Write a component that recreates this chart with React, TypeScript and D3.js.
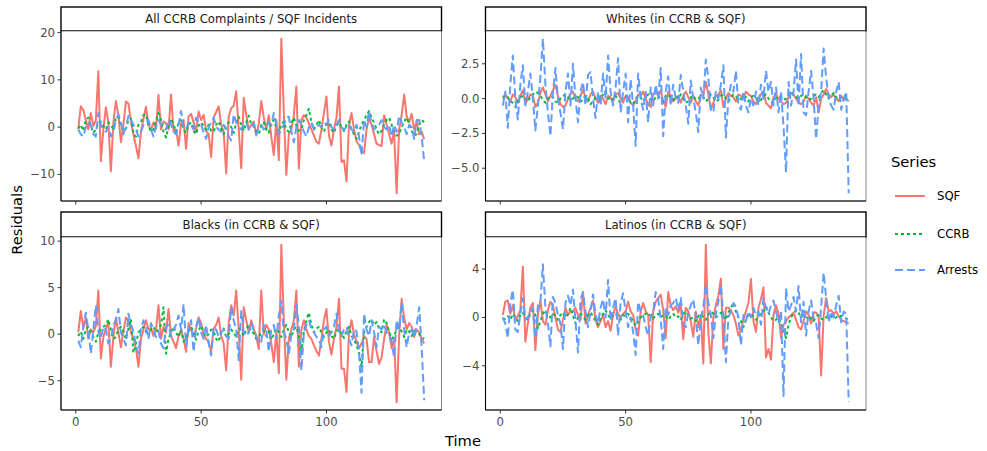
import React from "react";
import * as d3 from "d3";

// time index (months)
const time = d3.range(1, 140);

// All CCRB complaints / SQF incidents
const allSQF = [
  -0.4, 4.4, 3.6, 1.5, -0.5, 3.0, 0.2, 1.5, 11.8, -7.2,
  -0.5, 4.2, 1.0, -9.4, 1.0, 5.5, 2.6, -3.2, 0.5, 5.4,
  5.0, 1.2, -1.5, -4.0, -6.6, -1.0, 1.8, 4.3, 0.5, -0.5,
  1.0, -0.3, 6.8, -0.5, 1.2, 0.8, -0.5, 6.9, -0.8, -0.5,
  -3.9, 0.8, 1.5, -4.6, 2.2, 2.8, 1.0, -1.0, 3.3, 1.5,
  2.6, -0.8, -1.5, -6.3, 2.0, 3.2, 4.4, 0.5, -1.0, -9.8,
  2.2, 4.0, 4.5, 7.6, -0.5, -8.7, 6.2, 2.6, -0.5, 0.5,
  1.2, -1.8, 0.8, 5.5, 2.0, -0.5, 2.5, -2.0, -5.9, 1.5,
  -7.0, 18.7, 3.0, -10.1, -1.5, -0.5, 2.6, 8.6, -8.8, 1.5,
  2.5, 2.0, 0.8, -0.5, -1.8, -3.1, -3.5, -0.5, 3.0, 6.5,
  -1.8, -3.9, -0.5, 2.0, 8.6, -7.4, -7.0, -11.5, 0.5, 3.0,
  -0.5, -3.0, -3.8, -5.0, -5.5, -0.5, 2.0, 0.5, -1.5, -3.5,
  -3.8, -4.0, 2.5, 0.5, -1.5, -3.5, -0.8, -14.0, -0.5, 2.5,
  6.9, 2.3, 1.0, 2.8, -0.5, 1.2, -1.5, -1.0, -2.6,
];
const allCCRB = [
  -0.3, 0.5, -0.8, 1.5, 2.0, 0.2, -1.2, -0.5, 1.0, 1.2,
  0.3, -0.5, 1.0, 0.5, -0.5, 2.0, 2.2, 0.5, -0.8, -0.3,
  1.5, 1.8, -1.5, -2.0, 0.5, 1.0, 2.5, 2.7, 0.3, -1.0,
  -0.5, 1.2, 3.0, 1.5, -1.0, -2.2, 0.0, 1.8, 0.5, -1.0,
  0.8, 1.5, -0.5, -1.2, 0.5, 1.0, -0.8, -1.5, 0.3, 1.0,
  0.2, -0.6, 0.5, -0.8, -1.0, 0.5, 1.2, -0.3, -1.5, 0.5,
  1.0, 0.0, -1.2, 0.8, 2.2, 0.5, -0.8, 1.0, 2.4, 0.5,
  0.2, -1.0, -1.5, 0.5, 1.0, -0.5, -1.2, 0.8, 1.5, 0.0,
  -1.0, 0.5, 1.2, -0.5, -1.0, 0.8, 2.0, 0.3, -0.8, -0.5,
  1.5, 2.5, 3.9, 1.0, -0.5, 0.5, 1.5, 0.0, -1.0, 0.5,
  1.0, -0.5, -1.2, 0.3, 1.0, 0.0, -0.8, 0.5, 1.2, -0.5,
  -1.5, -2.5, -1.0, 0.5, 1.5, 2.5, 3.4, 2.0, 1.0, -0.5,
  -1.5, -0.8, 0.5, 1.5, 2.0, 0.5, -1.0, -1.8, -1.5, 0.0,
  1.2, 2.0, 0.5, -0.8, -1.8, -1.5, 0.5, 1.5, 1.0,
];
const allArrests = [
  -0.5, -1.5, -2.0, 0.0, 1.0, 0.5, -1.5, -2.0, 3.0, 0.5,
  -0.5, -1.0, 0.0, -2.0, -1.0, 1.5, 2.7, 1.0, -1.5, 0.0,
  2.4, 1.5, 0.5, -0.5, -2.0, -1.0, 0.5, 1.0, 1.5, -0.5,
  -2.0, 0.0, 1.5, 0.5, 0.0, -0.5, 1.5, 0.5, -1.0, -1.5,
  0.5, 3.4, 0.0, -0.5, 1.0, 0.5, -0.5, 2.0, 1.0, 0.5,
  -1.0, -2.5, 0.0, 1.0, 2.0, 0.0, -0.5, -1.0, 0.5, -0.5,
  -2.0, -2.8, 2.7, 1.0, 0.0, -0.5, 0.5, 1.0, -0.5, 0.0,
  0.8, -1.5, 0.0, 0.5, -0.5, 0.0, 1.0, 0.5, 3.0, 0.5,
  -1.5, -0.5, 0.5, 2.0, 2.2, -1.0, -3.2, 0.0, 1.5, 0.5,
  -1.0, -2.0, 0.0, 1.0, -0.5, 0.0, 0.5, 0.0, 1.0, 0.5,
  1.5, 0.0, -0.5, 0.5, 1.5, 0.0, -0.5, 0.0, 0.5, -0.5,
  -1.0, 0.5, -2.0, -6.0, 1.5, 0.0, 3.4, 1.0, -0.5, 0.0,
  0.5, 1.5, 0.0, -0.5, 0.5, -2.0, 0.5, -1.0, 2.4, 1.0,
  0.0, -1.5, 0.5, 0.0, -2.5, 1.5, 1.5, -2.0, -7.4,
];

// Whites
const whiteSQF = [
  0.1, 0.3, 0.0, -0.2, 0.3, 0.1, -0.3, 0.2, 0.6, -0.4,
  0.0, 0.3, 0.2, -0.6, -0.3, 0.4, 0.8, 0.3, -0.2, 0.2,
  0.6, 1.0, 0.2, -0.4, -0.6, -0.5, 0.0, 0.3, 0.5, 0.0,
  -0.2, 0.2, 0.6, 0.1, -0.2, 0.3, 0.5, 0.0, -0.3, 0.2,
  0.0, -0.4, 0.2, 0.1, -0.2, 0.3, 0.4, 0.0, -0.3, 0.2,
  0.1, -0.3, -0.5, -0.2, 0.3, 0.2, 0.5, 0.0, -0.4, -0.6,
  0.3, 0.5, 0.2, 0.6, -0.2, -0.6, 0.5, 0.2, -0.2, 0.0,
  0.2, -0.3, 0.2, 0.5, 0.1, -0.3, 0.2, -0.2, -0.5, 0.2,
  0.3, 1.2, 0.3, -0.8, -0.3, 0.2, 0.3, 0.6, -0.6, 0.0,
  0.4, 0.2, 0.1, -0.2, 0.3, 0.2, 0.0, 0.5, 0.3, 0.2,
  -0.2, -0.4, 0.0, 0.3, 0.5, -0.3, -0.5, -0.7, 0.1, 0.3,
  0.0, -0.2, -0.4, -0.3, 0.1, 0.4, 0.3, 0.0, -0.3, -0.4,
  -0.2, 0.2, 0.0, -0.3, -0.5, 0.1, -1.0, 0.0, 0.3, 0.7,
  0.3, 0.1, 0.3, 0.0, -0.2, 0.2, -0.1, 0.0, -0.2,
];
const whiteCCRB = [
  0.0, 0.2, 0.1, -0.2, -0.3, -0.6, -0.2, 0.1, 0.2, 0.0,
  -0.2, 0.1, 0.3, 0.5, 0.4, 0.2, -0.1, -0.3, 0.0, 0.2,
  0.1, -0.2, -0.3, 0.0, 0.2, 0.3, 0.1, -0.1, 0.0, 0.2,
  0.1, -0.2, -0.1, 0.2, 0.0, -0.4, -0.2, 0.1, 0.2, 0.0,
  0.3, 0.5, 0.1, -0.2, 0.0, 0.2, -0.1, -0.3, 0.1, 0.2,
  0.0, -0.3, -0.4, 0.0, 0.2, 0.1, -0.2, 0.1, 0.3, 0.0,
  -0.2, 0.1, 0.2, -0.1, -0.2, 0.2, 0.3, 0.0, -0.1, 0.2,
  0.0, 0.3, 0.0, -0.3, -0.2, 0.1, 0.2, -0.1, 0.0, 0.2,
  0.1, -0.2, 0.0, 0.3, 0.1, -0.2, -0.1, 0.2, 0.3, 0.0,
  -0.2, 0.1, 0.3, 0.2, -0.1, 0.0, 0.2, 0.1, -0.2, 0.1,
  0.2, 0.0, -0.2, -0.1, 0.2, 0.3, 0.0, -0.2, -0.3, 0.0,
  0.2, 0.1, -0.1, 0.0, 0.3, 0.5, 0.3, 0.1, 0.0, 0.2,
  0.3, 0.1, -0.1, 0.0, 0.2, 0.3, 0.1, 0.4, 0.6, 0.3,
  0.0, 0.2, 0.4, 0.1, -0.1, 0.1, 0.0, 0.1, 0.1,
];
const whiteArrests = [
  -0.5, 0.5, -2.1, 1.0, 3.1, 0.0, -1.5, 1.0, 2.4, -0.5,
  0.5, 1.8, 0.0, -2.3, -0.5, 1.5, 4.3, 1.0, -1.0, -2.7,
  0.5, 2.2, 0.0, -1.0, -2.2, 0.5, 1.8, -0.5, 2.5, 0.0,
  -1.7, 0.5, 1.2, -0.5, 1.7, 1.9, 0.0, -1.4, 0.5, -0.5,
  1.8, 0.0, 3.1, 0.5, -0.5, 0.8, 2.9, -1.0, 0.5, 1.8,
  -1.7, 1.4, -0.5, -3.4, 1.8, 0.0, -0.8, 0.5, -1.7, 0.8,
  -0.5, 1.0, 0.0, 2.2, -2.7, 0.5, 1.6, -0.5, 1.0, 0.0,
  -0.3, 1.7, 0.5, -0.5, -1.8, 1.3, 0.0, -1.0, -2.4, 0.8,
  0.0, 2.8, 1.5, -0.8, -1.0, 0.5, 0.0, 1.0, 2.4, -2.8,
  0.0, 1.0, 0.5, 2.0, -0.5, -0.8, 0.5, -0.5, -1.0, 0.0,
  -0.5, 0.5, -0.5, 1.0, 0.0, 2.0, 0.5, 1.2, -0.5, 0.8,
  -1.0, 0.5, -2.0, -5.3, 1.2, -0.5, 0.5, 2.8, -0.5, 3.2,
  -1.0, -1.2, 0.5, 2.0, 0.0, -2.9, -0.5, 0.5, 3.6, 1.5,
  0.0, -0.5, -0.8, 0.5, 1.2, -0.8, 0.0, 0.5, -6.8,
];

// Blacks
const blackSQF = [
  0.2, 2.5, 0.7, 1.8, -0.5, 0.5, 0.2, 0.9, 4.7, -2.6,
  -0.3, 0.6, 1.3, -3.5, -0.3, 1.8, 0.2, -1.4, 0.3, 1.8,
  1.5, 0.2, -0.5, -1.5, -3.5, -0.5, 0.5, 1.5, 0.5, 0.7,
  -0.2, 0.5, 3.1, -0.5, 0.8, 0.2, 2.7, -0.2, -0.8, -1.5,
  -0.2, 0.5, -0.5, -1.9, 1.2, 0.5, -0.2, 0.6, 1.8, 1.2,
  0.0, -0.5, -0.8, -1.9, 0.6, 1.0, 1.8, -0.2, -1.0, -3.9,
  1.2, 3.1, 2.0, 4.7, 0.5, -4.9, 2.9, 1.5, 0.2, 1.5,
  0.6, -0.2, -1.6, 4.7, 0.0, 1.0, 0.5, -1.0, -3.0, 0.2,
  -4.2, 9.6, 1.5, -4.9, -0.5, 0.5, 1.5, 4.7, -3.5, 0.5,
  1.5, 0.5, -0.2, -0.5, -1.2, -1.8, -2.3, -0.5, 1.5, 2.7,
  -0.8, -2.2, -0.5, 0.8, 3.8, -3.7, -3.7, -6.2, 0.2, 1.5,
  0.0, -0.8, -1.5, -1.0, -0.2, -0.5, -3.0, -3.0, -0.3, -1.8,
  -3.2, -2.5, -0.5, 1.0, 0.2, -1.5, -0.4, -7.3, -0.2, 3.8,
  1.8, 0.5, 1.2, 0.8, -0.3, 0.5, 0.2, -0.5, -1.0,
];
const blackCCRB = [
  -0.2, 0.3, -0.5, 0.5, 0.8, 0.3, -0.3, -0.8, 0.2, 0.5,
  0.8, 1.0, 1.6, 0.5, -0.5, -0.3, 0.5, 0.8, 0.3, -0.5,
  0.6, 1.6, -2.0, -1.0, 0.2, 0.5, 0.8, 0.3, -0.2, 0.5,
  0.8, 0.2, 0.5, 1.0, 2.9, -2.1, -0.5, 0.2, 0.8, 0.2,
  -0.3, 0.5, -0.8, -0.5, 0.3, 0.8, 0.2, -0.6, 0.4, 0.9,
  0.2, -0.3, 0.0, 0.5, 0.3, -0.5, -0.8, 0.2, 0.6, -0.3,
  0.0, 0.5, 0.2, -0.3, 0.6, 0.4, -0.2, 0.5, 1.0, 0.3,
  0.1, -0.5, -0.3, 0.2, 0.4, -0.2, 0.3, -0.6, 0.0, 0.6,
  0.2, -0.3, 0.5, 1.0, 0.2, -0.3, 0.5, 0.8, -0.2, -2.0,
  0.3, 1.5, 2.3, 1.0, 0.2, 0.6, 0.8, 0.2, -0.3, 0.2,
  0.5, -0.2, -0.5, 0.3, 0.6, 0.0, -0.4, 0.4, 0.8, -0.2,
  -0.5, -1.2, -2.0, -3.5, 0.2, 0.8, 1.3, 1.6, 1.0, 1.3,
  0.6, 0.2, 1.6, 1.2, 0.3, -0.5, -0.2, 0.5, 0.8, 0.3,
  -0.3, 0.5, 0.3, -0.2, 0.4, 0.2, 0.0, -0.3, -0.5,
];
const blackArrests = [
  -0.7, -1.4, 0.8, 2.3, 0.5, -2.1, 0.5, 3.1, 0.3, -0.5,
  0.8, 0.5, -1.0, -0.5, 1.0, 1.5, 2.7, 0.2, -0.5, -1.2,
  2.2, 1.0, 0.3, -1.2, -2.1, 0.5, 1.5, 0.8, -0.5, 1.2,
  0.5, -0.3, 0.3, -1.0, -1.5, 0.8, 1.0, -0.2, 0.5, 1.0,
  2.0, 0.5, 3.2, -1.2, 0.5, 1.5, -1.9, 0.8, 1.8, 0.2,
  -0.5, 1.0, -1.0, -2.3, 0.8, 0.5, -0.3, 0.2, 0.5, -0.2,
  -0.5, 2.9, 1.5, 0.5, -2.8, 2.5, 0.2, -0.2, 0.2, 1.2,
  0.4, -0.2, -1.0, -0.8, 1.0, 0.5, -1.9, 0.5, 1.0, -0.5,
  2.0, 3.6, 0.2, -0.5, -2.1, 0.0, 0.5, 3.2, 0.8, -3.9,
  0.2, 1.0, 1.5, 0.5, 0.2, -0.3, -0.5, -1.4, 0.5, 0.8,
  -0.2, 0.2, 0.8, 2.2, 0.3, -0.2, 0.5, 0.8, -0.5, -1.2,
  0.5, 0.3, -2.0, -6.3, 2.2, 0.5, -0.2, 1.5, 0.2, -1.4,
  0.8, 0.5, 1.0, 0.2, -0.2, -0.8, -2.5, 1.5, 0.5, 3.4,
  0.5, -1.4, 0.2, 0.5, -0.3, 1.0, 2.9, -1.5, -7.1,
];

// Latinos
const latinoSQF = [
  0.2, 1.3, 1.4, 0.3, 1.0, -0.2, 0.1, 0.6, 4.2, -2.0,
  -0.5, 0.8, 1.2, -2.7, 0.2, 1.4, -0.3, -0.6, 0.6, 1.3,
  1.0, 0.0, -1.0, -1.2, -0.2, 0.8, 0.2, 0.5, 0.5, 0.8,
  0.2, -0.2, 2.1, -0.5, 0.2, 0.8, 1.4, -0.2, -0.8, -0.3,
  0.2, -0.8, -0.3, -1.1, 0.2, 0.9, 0.3, 0.0, 0.3, 0.5,
  1.3, 0.5, 0.2, -1.0, -1.5, 0.5, 1.2, 0.5, 0.2, -3.7,
  0.5, 1.3, 1.6, 1.9, 0.6, -1.7, 2.1, 1.0, 0.6, 0.9,
  0.4, 1.0, -1.8, 0.8, 0.5, -0.3, -1.6, 0.5, -0.8, 0.2,
  -3.8, 6.0, -1.2, -3.8, 0.0, 1.0, 1.8, 3.2, -2.6, 0.8,
  0.8, 0.6, 0.2, -0.5, -1.5, -1.0, -0.2, 0.5, 1.2, 3.2,
  -0.3, -1.2, 0.8, 1.5, 2.5, -3.3, -2.6, -3.5, 0.2, 1.0,
  0.3, -1.7, -0.6, -0.3, 0.0, 0.2, 0.4, -0.2, -0.8, -1.0,
  -0.3, 0.5, 0.2, -0.5, 0.4, 0.4, 0.1, -4.8, 0.2, 1.6,
  0.5, 0.6, 0.3, 0.5, 0.1, -0.2, -0.3, -0.4, -0.5,
];
const latinoCCRB = [
  -0.2, -0.1, 0.1, -0.2, 0.3, 0.0, -0.3, 0.2, 0.4, 0.0,
  -0.2, 0.3, 0.6, 0.2, -0.9, -0.3, 0.3, 0.6, 0.2, 0.0,
  0.3, 0.1, -0.2, 0.2, 0.4, 0.0, 0.3, 0.8, 0.2, -0.5,
  0.0, 0.3, 0.1, -0.2, 0.2, 0.4, 0.1, -0.3, -0.6, 0.0,
  0.3, 0.6, 0.2, -0.1, 0.2, 0.3, 0.0, -0.2, 0.2, 0.1,
  0.3, 0.0, -0.3, -0.7, -0.4, 0.0, 0.2, 0.3, 0.4, 0.1,
  -0.1, 0.2, 0.3, 0.0, 0.2, 0.1, -0.2, 0.1, 0.3, 0.0,
  0.1, -0.2, 0.3, 0.5, 0.2, -0.1, 0.0, -0.3, 0.1, 0.3,
  0.0, -0.2, 0.2, 0.5, 0.3, 0.0, 0.2, 0.4, 0.1, -0.2,
  0.4, 0.8, 1.2, 0.5, 0.0, -0.3, -0.8, -0.2, 0.2, 0.3,
  0.0, -0.2, 0.1, 0.3, 0.5, 0.9, 0.4, 0.0, -0.3, -0.2,
  0.0, -0.5, -1.0, -1.7, -0.6, 0.0, 0.3, 0.6, 0.4, 0.0,
  0.2, 0.1, -0.2, 0.0, -0.3, 0.1, 0.2, -0.1, -0.2, 0.0,
  0.2, 0.1, -0.1, 0.0, 0.2, 0.1, 0.0, -0.1, -0.2,
];
const latinoArrests = [
  0.0, -0.5, -1.7, 1.2, 2.3, -1.0, -1.2, 0.3, 1.6, -0.2,
  0.0, 0.5, 0.8, -1.7, 1.0, 1.2, 4.4, 0.8, -0.5, -2.4,
  1.7, 1.2, 0.2, -0.5, -2.6, 1.2, 1.8, 1.0, 2.3, -0.3,
  -2.9, 1.5, 2.1, 0.5, -0.8, 0.5, 1.9, 0.2, -0.5, 0.8,
  1.5, 0.0, 3.1, -0.3, 0.8, 1.6, -1.5, 1.2, 2.0, 0.5,
  -0.8, 0.0, -1.2, -3.1, 1.3, 0.5, 0.2, -0.8, -1.5, 0.0,
  0.5, 2.1, 1.5, -0.2, -2.6, 0.8, 0.2, 1.0, 1.2, 1.6,
  0.6, 1.6, -0.5, -0.8, 0.4, 1.0, 1.5, 0.0, -2.3, 0.0,
  0.8, 2.7, 1.2, 0.2, -1.7, 0.3, 1.3, 2.7, 0.0, -3.7,
  0.0, 0.5, 1.2, 0.9, 0.0, -2.3, 0.2, -0.3, 0.5, 0.0,
  0.8, 0.2, 0.5, -0.6, 1.6, 0.8, 0.3, 1.0, 1.4, 0.5,
  -0.4, 0.5, -6.5, 2.4, 0.5, 1.0, 1.7, 0.5, 2.6, -0.4,
  1.3, -1.5, 0.5, 1.4, 0.0, -0.5, -1.7, 0.8, 3.7, 1.6,
  -0.4, 0.5, 0.0, 1.0, 1.8, -0.4, 0.5, 0.3, -7.0,
];

const seriesNames = ["SQF", "CCRB", "Arrests"];
const seriesColors = ["#F8766D", "#00BA38", "#619CFF"];
const seriesDash = [null, "3,3", "8,4"];

const xTicks = [0, 50, 100];

const panels = [
  { title: "All CCRB Complaints / SQF Incidents", series: [allSQF, allCCRB, allArrests], ticks: [-10, 0, 10, 20], fmt: d3.format("d"), col: 0, row: 0 },
  { title: "Whites (in CCRB & SQF)", series: [whiteSQF, whiteCCRB, whiteArrests], ticks: [-5, -2.5, 0, 2.5], fmt: d3.format(".1f"), col: 1, row: 0 },
  { title: "Blacks (in CCRB & SQF)", series: [blackSQF, blackCCRB, blackArrests], ticks: [-5, 0, 5, 10], fmt: d3.format("d"), col: 0, row: 1 },
  { title: "Latinos (in CCRB & SQF)", series: [latinoSQF, latinoCCRB, latinoArrests], ticks: [-4, 0, 4], fmt: d3.format("d"), col: 1, row: 1 },
];

const W = 987;
const H = 451;
const colX = [61, 485.5];
const panelW = 380.5;
const rows = [
  { stripTop: 7, top: 31, bottom: 201 },
  { stripTop: 212, top: 237, bottom: 410 },
];
const font = "DejaVu Sans, Liberation Sans, sans-serif";

const pad = (ext: [number, number]): [number, number] => {
  const s = ext[1] - ext[0];
  return [ext[0] - s * 0.05, ext[1] + s * 0.05];
};

const Panel = ({ p }: { p: (typeof panels)[number] }) => {
  const left = colX[p.col];
  const r = rows[p.row];
  const x = d3.scaleLinear().domain(pad([time[0], time[time.length - 1]])).range([left, left + panelW]);
  const all = p.series.flat();
  const y = d3.scaleLinear().domain(pad(d3.extent(all) as [number, number])).range([r.bottom, r.top]);
  const line = d3
    .line<number>()
    .x((_, i) => x(time[i]))
    .y((d) => y(d));
  const minus = (s: string) => s.replace("-", "\u2212");
  return (
    <g>
      <rect x={left} y={r.stripTop} width={panelW} height={r.top - r.stripTop} fill="#fff" stroke="#000" strokeWidth={1.4} />
      <text x={left + panelW / 2} y={(r.stripTop + r.top) / 2 + 4} textAnchor="middle" fontSize={11.7} fill="#1A1A1A" fontFamily={font}>
        {p.title}
      </text>
      <rect x={left} y={r.top} width={panelW} height={r.bottom - r.top} fill="#fff" stroke="#333" strokeWidth={0.6} />
      <clipPath id={`clip-${p.col}-${p.row}`}>
        <rect x={left} y={r.top} width={panelW} height={r.bottom - r.top} />
      </clipPath>
      <g clipPath={`url(#clip-${p.col}-${p.row})`}>
        {p.series.map((s, i) => (
          <path
            key={i}
            d={line(s) ?? ""}
            fill="none"
            stroke={seriesColors[i]}
            strokeWidth={2}
            strokeDasharray={seriesDash[i] ?? undefined}
            strokeLinejoin="round"
          />
        ))}
      </g>
      <line x1={left} x2={left} y1={r.top} y2={r.bottom} stroke="#000" strokeWidth={1.1} />
      <line x1={left} x2={left + panelW} y1={r.bottom} y2={r.bottom} stroke="#000" strokeWidth={1.1} />
      {p.ticks.map((t) => (
        <g key={t}>
          <line x1={left - 3.5} x2={left} y1={y(t)} y2={y(t)} stroke="#333" strokeWidth={1} />
          <text x={left - 6} y={y(t) + 4} textAnchor="end" fontSize={11.7} fill="#4D4D4D" fontFamily={font}>
            {minus(p.fmt(t))}
          </text>
        </g>
      ))}
      {xTicks.map((t) => (
        <g key={t}>
          <line x1={x(t)} x2={x(t)} y1={r.bottom} y2={r.bottom + 3.5} stroke="#333" strokeWidth={1} />
          {p.row === 1 && (
            <text x={x(t)} y={r.bottom + 16} textAnchor="middle" fontSize={11.7} fill="#4D4D4D" fontFamily={font}>
              {t}
            </text>
          )}
        </g>
      ))}
    </g>
  );
};

export default function App() {
  const legendY = [196, 234, 270];
  return (
    <svg width={W} height={H} style={{ position: "absolute", left: 0, top: 0, background: "#fff" }}>
      <rect width={W} height={H} fill="#fff" />
      {panels.map((p) => (
        <Panel key={p.title} p={p} />
      ))}
      <text x={463} y={446} textAnchor="middle" fontSize={14.7} fill="#000" fontFamily={font}>
        Time
      </text>
      <text transform="translate(22,220) rotate(-90)" textAnchor="middle" fontSize={14.7} fill="#000" fontFamily={font}>
        Residuals
      </text>
      <text x={891} y={167} fontSize={14.7} fill="#000" fontFamily={font}>
        Series
      </text>
      {seriesNames.map((n, i) => (
        <g key={n}>
          <line x1={895} x2={925} y1={legendY[i]} y2={legendY[i]} stroke={seriesColors[i]} strokeWidth={2} strokeDasharray={seriesDash[i] ?? undefined} />
          <text x={937} y={legendY[i] + 4} fontSize={11.7} fill="#000" fontFamily={font}>
            {n}
          </text>
        </g>
      ))}
    </svg>
  );
}
